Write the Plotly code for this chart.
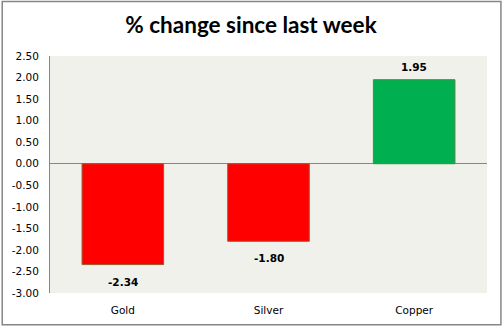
import plotly.graph_objects as go

categories = ["Gold", "Silver", "Copper"]
values = [-2.34, -1.80, 1.95]
bar_colors = ["#FF0000", "#FF0000", "#00B050"]
edge_colors = ["#9C5A2E", "#9C5A2E", "#4F8A3C"]
tick_vals = [-3.0, -2.5, -2.0, -1.5, -1.0, -0.5, 0.0, 0.5, 1.0, 1.5, 2.0, 2.5]
tick_text = ["%.2f" % v for v in tick_vals]

fig = go.Figure()
fig.add_trace(go.Bar(
    x=categories, y=values,
    marker=dict(color=bar_colors, line=dict(color=edge_colors, width=1)),
    width=0.56,
))

annotations = []
for c, v in zip(categories, values):
    annotations.append(dict(
        x=c, y=v, xref="x", yref="y", text="%.2f" % v, showarrow=False,
        yshift=(-17 if v < 0 else 13), xanchor="center", yanchor="middle",
        font=dict(family="DejaVu Sans", size=10.5, color="#000000", weight="bold"),
    ))

fig.update_layout(
    width=502, height=328,
    margin=dict(l=48, r=15, t=56, b=33),
    paper_bgcolor="#FFFFFF",
    plot_bgcolor="#EFF1EA",
    showlegend=False,
    annotations=annotations,
    title=dict(text="% change since last week", x=0.5, xanchor="center",
               y=1 - 25 / 328, yanchor="middle",
               font=dict(family="Lato", size=22.5, color="#000000", weight="bold")),
    xaxis=dict(showline=False, showgrid=False, ticks="", ticklen=0,
               ticklabelstandoff=9,
               tickfont=dict(family="DejaVu Sans", size=10.5, color="#000000"),
               fixedrange=True),
    yaxis=dict(range=[-3.0, 2.5], tickvals=tick_vals, ticktext=tick_text,
               showgrid=False, showline=True, linecolor="#868686", linewidth=1,
               zeroline=True, zerolinecolor="#868686", zerolinewidth=1,
               ticks="", ticklabelstandoff=8,
               tickfont=dict(family="DejaVu Sans", size=10.5, color="#000000"),
               fixedrange=True),
    shapes=[dict(type="rect", xref="paper", yref="paper", x0=-48 / 439, x1=1 + 14 / 439,
                 y0=-32 / 239, y1=1 + 55 / 239,
                 line=dict(color="#868686", width=1.5), fillcolor="rgba(0,0,0,0)")],
)

fig.write_html("out.html")
